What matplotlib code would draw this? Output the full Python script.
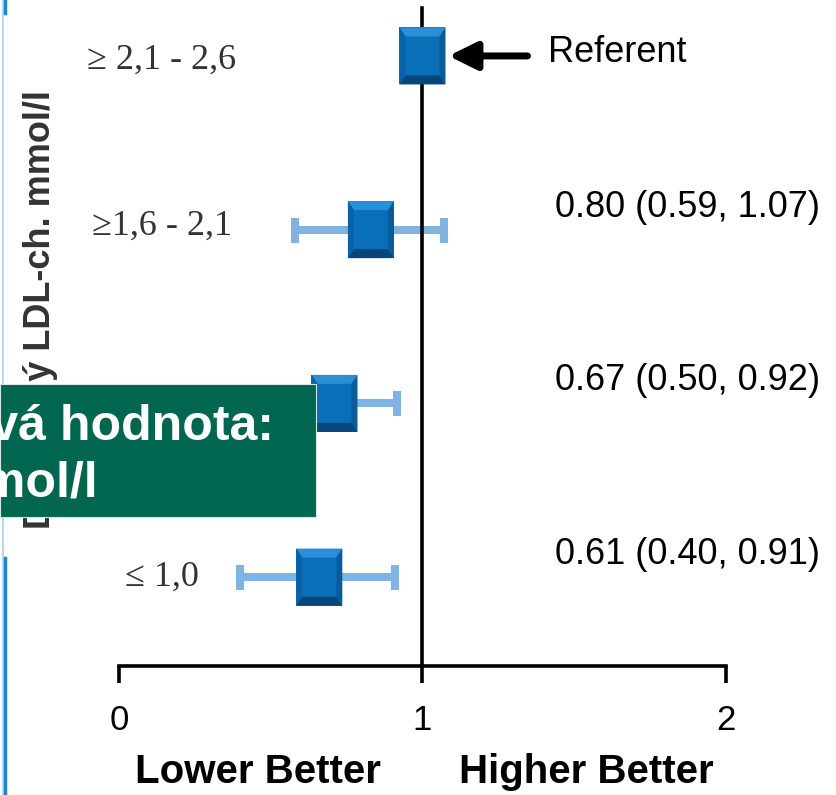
import numpy as np
import matplotlib
matplotlib.use("Agg")
import matplotlib.pyplot as plt
from matplotlib.patches import Polygon, Rectangle
from matplotlib.lines import Line2D

# categories (top to bottom) and the values as drawn in the picture
groups = ["\u2265 2,1 - 2,6", "\u22651,6 - 2,1", "\u22651,0 - 1,6", "\u2264 1,0"]
point = [1.00, 0.83, 0.71, 0.66]
ci_low = [np.nan, 0.58, 0.50, 0.40]
ci_high = [np.nan, 1.07, 0.915, 0.91]
hr_text = ["Referent", "0.80 (0.59, 1.07)", "0.67 (0.50, 0.92)", "0.61 (0.40, 0.91)"]
xticks = [0, 1, 2]

W, H = 837, 795
fig = plt.figure(figsize=(W / 100, H / 100), dpi=100)
ax = fig.add_axes([119 / W, (H - 666) / H, (726 - 119) / W, (666 - 8) / H])
ax.set_xlim(0, 2)
ax.set_ylim(-0.512, 3.276)

ypos = np.arange(len(groups))[::-1].astype(float)
px_x = (726 - 119) / 2.0      # pixels per x unit
px_y = (666 - 8) / 3.788      # pixels per y unit

for s in ["left", "top", "right"]:
    ax.spines[s].set_visible(False)
ax.spines["bottom"].set_linewidth(2.6)
ax.set_yticks([])
ax.set_xticks(xticks)
ax.set_xticklabels([str(t) for t in xticks], fontsize=25, family="Liberation Sans")
ax.tick_params(axis="x", direction="out", length=12, width=2.6, pad=15, colors="black")

# reference line at 1
ax.axvline(1, color="black", lw=2.6, zorder=3, clip_on=False)

# confidence intervals
lo = np.array(ci_low)
hi = np.array(ci_high)
pt = np.array(point)
xerr = np.vstack([pt - lo, hi - pt])
ax.errorbar(pt, ypos, xerr=xerr, fmt="none", ecolor="#7fb3e2", elinewidth=5.8,
            capsize=9, capthick=5.8, zorder=2)

# beveled square markers
w = 46 / px_x
h = 57 / px_y
bx = 6 / px_x
by = 9 / px_y
for p, y in zip(point, ypos):
    x0, x1 = p - w / 2, p + w / 2
    y0, y1 = y - h / 2, y + h / 2
    ax.add_patch(Rectangle((x0, y0), w, h, facecolor="#0a6fb9", edgecolor="none", zorder=4))
    ax.add_patch(Polygon([(x0, y0), (x1, y0), (x1 - bx, y0 + by), (x0 + bx, y0 + by)],
                         closed=True, facecolor="#07467a", edgecolor="none", zorder=5))
    ax.add_patch(Polygon([(x0, y1), (x1, y1), (x1 - bx, y1 - by), (x0 + bx, y1 - by)],
                         closed=True, facecolor="#2a8fd6", edgecolor="none", zorder=5))
    ax.add_patch(Polygon([(x0, y0), (x0 + bx, y0 + by), (x0 + bx, y1 - by), (x0, y1)],
                         closed=True, facecolor="#0a62a6", edgecolor="none", zorder=5))
    ax.add_patch(Polygon([(x1, y0), (x1 - bx, y0 + by), (x1 - bx, y1 - by), (x1, y1)],
                         closed=True, facecolor="#085c9c", edgecolor="none", zorder=5))

# group labels on the left
label_dy = [-0.025, 0.02, 0.0, 0.0]
for g, y, d in zip(groups, ypos, label_dy):
    ax.text((162 - 119) / px_x, y + d, g, ha="center", va="center", fontsize=26,
            family="Liberation Serif", color="#333333", clip_on=False, zorder=1)

# values on the right
for i, (t, y) in enumerate(zip(hr_text, ypos)):
    off = 0.02 if i == 0 else 0.13
    x_left = 548 if i == 0 else 555
    ax.text((x_left - 119) / px_x, y + off, t, ha="left", va="center", fontsize=26,
            family="Liberation Sans", color="black", clip_on=False)

# arrow to the referent
ax.annotate("", xy=(point[0] + 26 / px_x, ypos[0]), xytext=(point[0] + 105 / px_x, ypos[0]),
            arrowprops=dict(arrowstyle="-|>,head_length=0.85,head_width=0.42", lw=5,
                            color="black", shrinkA=0, shrinkB=0, mutation_scale=20))

fig.text(258 / W, 1 - 772 / H, "Lower Better", ha="center", va="center", fontsize=29,
         fontweight="bold", family="Liberation Sans")
fig.text(586 / W, 1 - 772 / H, "Higher Better", ha="center", va="center", fontsize=29,
         fontweight="bold", family="Liberation Sans")

# y axis title (partly covered by the green box)
fig.text(40 / W, 1 - 310 / H, "Dosažený LDL-ch. mmol/l", rotation=90, ha="center",
         va="center", fontsize=26, fontweight="bold", family="Liberation Sans", color="#333333")

# green overlay box
fig.patches.append(Rectangle((0, 1 - 517 / H), 316 / W, 133 / H, transform=fig.transFigure,
                             facecolor="#00664f", edgecolor="#d8e8e0", lw=0.8, zorder=10))
fig.text(274 / W, 1 - 440 / H, "Cílová hodnota:", ha="right", va="baseline", fontsize=36,
         fontweight="bold", family="Liberation Sans", color="white", zorder=11)
fig.text(98 / W, 1 - 497 / H, "< 1,8 mmol/l", ha="right", va="baseline", fontsize=36,
         fontweight="bold", family="Liberation Sans", color="white", zorder=11)

# slide border on the left
fig.add_artist(Line2D([3 / W, 3 / W], [0, 1], transform=fig.transFigure, color="#a9d2ee", lw=1.2))
fig.add_artist(Line2D([4.5 / W, 4.5 / W], [1 - 13 / H, 1], transform=fig.transFigure,
                      color="#1b86c8", lw=2.5))
fig.add_artist(Line2D([4.5 / W, 4.5 / W], [0, 1 - 558 / H], transform=fig.transFigure,
                      color="#1b86c8", lw=2.5))

fig.savefig("out.png", dpi=100)
